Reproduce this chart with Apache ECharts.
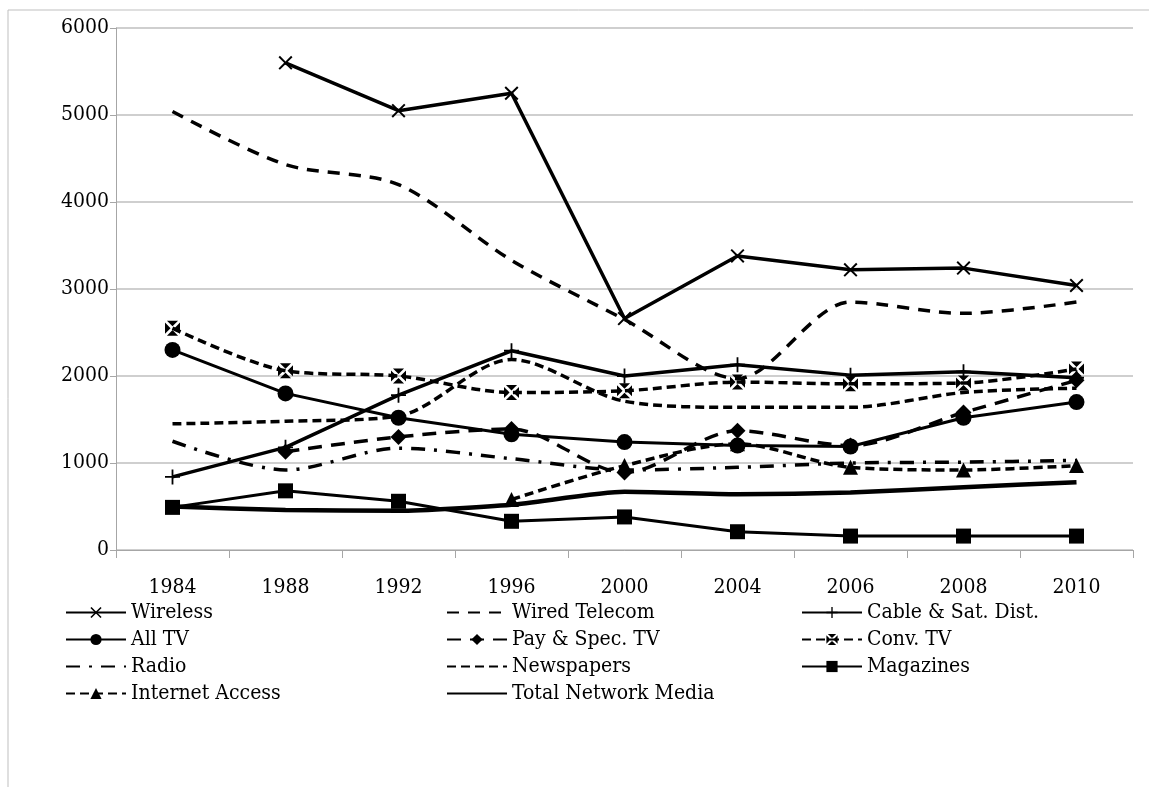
<!DOCTYPE html>
<html>
<head>
<meta charset="utf-8">
<script src="https://cdn.jsdelivr.net/npm/echarts@6/dist/echarts.min.js"></script>
<style>
  html, body { margin: 0; padding: 0; background: #fff; }
  #main { width: 1149px; height: 787px; }
</style>
</head>
<body>
<div id="main"></div>
<script>
// categories and values
var years = ['1984', '1988', '1992', '1996', '2000', '2004', '2006', '2008', '2010'];
var yTicks = [0, 1000, 2000, 3000, 4000, 5000, 6000];

var wireless     = [null, 5600, 5050, 5250, 2660, 3380, 3220, 3240, 3040];
var wiredTelecom = [5040, 4430, 4200, 3330, 2650, 1970, 2850, 2720, 2850];
var cableSat     = [840, 1180, 1780, 2290, 2000, 2130, 2010, 2050, 1980];
var allTV        = [2300, 1800, 1520, 1330, 1240, 1200, 1190, 1520, 1700];
var payTV        = [null, 1130, 1300, 1390, 890, 1370, 1200, 1580, 1950];
var convTV       = [2550, 2060, 2000, 1810, 1830, 1930, 1910, 1920, 2080];
var radio        = [1250, 920, 1170, 1050, 920, 950, 1000, 1010, 1030];
var newspapers   = [1450, 1480, 1540, 2190, 1710, 1640, 1640, 1810, 1860];
var magazines    = [490, 680, 560, 330, 380, 210, 160, 160, 160];
var internet     = [null, null, null, 580, 970, 1220, 950, 920, 970];
var totalNetwork = [500, 460, 450, 520, 670, 640, 660, 720, 780];

var FONT = "'DejaVu Serif Condensed', 'DejaVu Serif', serif";
var FSIZE = 21;

// marker shapes
var xMark = 'path://M0,1 L1,0 L5,4 L9,0 L10,1 L6,5 L10,9 L9,10 L5,6 L1,10 L0,9 L4,5 Z';
var plusMark = 'path://M4.4,0 L5.6,0 L5.6,4.4 L10,4.4 L10,5.6 L5.6,5.6 L5.6,10 L4.4,10 L4.4,5.6 L0,5.6 L0,4.4 L4.4,4.4 Z';
var boxX = 'path://M1.3,0 L8.7,0 L5,3.7 Z M10,1.3 L10,8.7 L6.3,5 Z M8.7,10 L1.3,10 L5,6.3 Z M0,8.7 L0,1.3 L3.7,5 Z';

function line(name, data, opt) {
  return {
    name: name,
    type: 'line',
    data: data,
    smooth: opt.smooth || false,
    symbol: opt.symbol || 'none',
    symbolSize: opt.size || 12,
    showSymbol: opt.symbol ? true : false,
    connectNulls: false,
    lineStyle: { color: '#000', width: opt.width || 3.5, type: opt.dash || 'solid', cap: 'butt' },
    itemStyle: { color: '#000' },
    emphasis: { disabled: true },
    z: opt.z || 2
  };
}

var chart = echarts.init(document.getElementById('main'), null, { renderer: 'canvas' });

// legend entries without a marker get a hidden symbol
var noMarker = ['Wired Telecom', 'Radio', 'Newspapers', 'Total Network Media'];
var legendText = { fontFamily: FONT, fontSize: FSIZE, color: '#000' };
function legendCol(left, names) {
  return {
    data: names.map(function (n) {
      return noMarker.indexOf(n) >= 0 ? { name: n, itemStyle: { opacity: 0 } } : { name: n };
    }),
    orient: 'vertical', left: left, top: 597,
    itemWidth: 60, itemHeight: 14, itemGap: 6,
    textStyle: legendText, selectedMode: false
  };
}

chart.setOption({
  animation: false,
  backgroundColor: '#fff',
  graphic: [{
    type: 'polyline', shape: { points: [[8, 787], [8, 10], [1149, 10]] },
    style: { stroke: '#bfbfbf', lineWidth: 1, fill: null }
  }],
  grid: { left: 116, right: 16, top: 28, bottom: 237 },
  legend: [
    legendCol(60, ['Wireless', 'All TV', 'Radio', 'Internet Access']),
    legendCol(441, ['Wired Telecom', 'Pay & Spec. TV', 'Newspapers', 'Total Network Media']),
    legendCol(796, ['Cable & Sat. Dist.', 'Conv. TV', 'Magazines'])
  ],
  xAxis: {
    type: 'category', data: years, boundaryGap: true,
    axisLine: { show: true, lineStyle: { color: '#a6a6a6', width: 1 } },
    axisTick: { show: true, alignWithLabel: false, length: 8, lineStyle: { color: '#a6a6a6' } },
    axisLabel: { fontFamily: FONT, fontSize: FSIZE, color: '#000', margin: 27 }
  },
  yAxis: {
    type: 'value', min: 0, max: 6000, interval: 1000,
    axisLine: { show: true, lineStyle: { color: '#a6a6a6', width: 1 } },
    axisTick: { show: true, length: 6, lineStyle: { color: '#a6a6a6' } },
    axisLabel: { fontFamily: FONT, fontSize: FSIZE, color: '#000', margin: 7,
      formatter: function (v) { return yTicks.indexOf(v) >= 0 ? String(v) : ''; } },
    splitLine: { show: true, lineStyle: { color: '#bfbfbf', width: 1.5 } }
  },
  series: [
    line('Wireless', wireless, { symbol: xMark, size: 14, width: 3.5, z: 5 }),
    line('Wired Telecom', wiredTelecom, { dash: [12, 9], smooth: 0.3, width: 3.5 }),
    line('Cable & Sat. Dist.', cableSat, { symbol: plusMark, size: 15, width: 3.5 }),
    line('All TV', allTV, { symbol: 'circle', size: 16, width: 3 }),
    line('Pay & Spec. TV', payTV, { symbol: 'diamond', size: 16, dash: [14, 9], smooth: 0.3, width: 3.5 }),
    line('Conv. TV', convTV, { symbol: boxX, size: 15, dash: [9, 5], smooth: 0.3, width: 3.5 }),
    line('Radio', radio, { dash: [14, 9, 3, 9], smooth: 0.3, width: 3.5 }),
    line('Newspapers', newspapers, { dash: [9, 5], smooth: 0.3, width: 3.5 }),
    line('Magazines', magazines, { symbol: 'rect', size: 15, width: 3 }),
    line('Internet Access', internet, { symbol: 'triangle', size: 15, dash: [9, 5], smooth: 0.3, width: 3.5 }),
    line('Total Network Media', totalNetwork, { width: 4.5, smooth: 0.2 })
  ]
});
</script>
</body>
</html>
